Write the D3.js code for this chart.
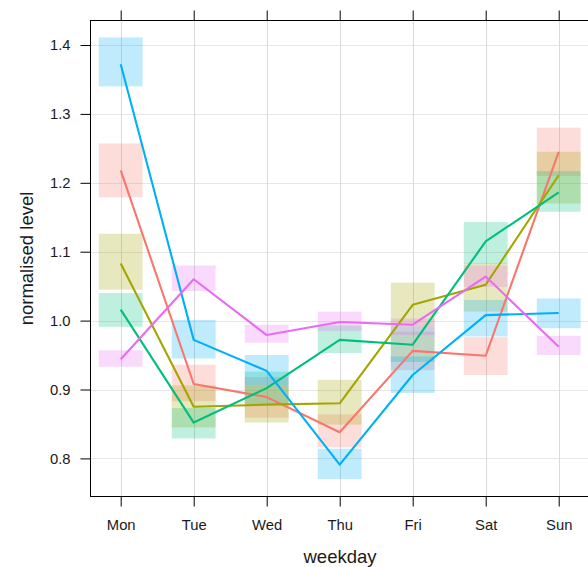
<!DOCTYPE html>
<html>
<head>
<meta charset="utf-8">
<script src="https://cdn.jsdelivr.net/npm/d3@7"></script>
<style>
  html, body { margin: 0; padding: 0; background: #fff; }
  svg { display: block; font-family: "Liberation Sans", Arial, sans-serif; }
</style>
</head>
<body>
<svg id="chart" width="588" height="567"></svg>
<script>
// ---- data ----
const weekdays = ["Mon", "Tue", "Wed", "Thu", "Fri", "Sat", "Sun"];
const yTicks = [0.8, 0.9, 1.0, 1.1, 1.2, 1.3, 1.4];
const seriesNames = ["s1", "s2", "s3", "s4", "s5"];
const seriesColors = ["#F8766D", "#A3A500", "#00BF7D", "#00B0F6", "#E76BF3"];

const s1Level = [1.218, 0.908, 0.889, 0.838, 0.956, 0.949, 1.245];
const s1Lower = [1.179, 0.883, 0.859, 0.816, 0.928, 0.921, 1.210];
const s1Upper = [1.257, 0.936, 0.918, 0.864, 0.984, 0.976, 1.280];

const s2Level = [1.083, 0.875, 0.878, 0.880, 1.023, 1.052, 1.211];
const s2Lower = [1.045, 0.845, 0.852, 0.849, 0.991, 1.013, 1.170];
const s2Upper = [1.126, 0.906, 0.906, 0.914, 1.055, 1.083, 1.245];

const s3Level = [1.016, 0.852, 0.902, 0.972, 0.965, 1.115, 1.186];
const s3Lower = [0.991, 0.829, 0.878, 0.953, 0.940, 1.082, 1.158];
const s3Upper = [1.040, 0.873, 0.926, 0.993, 0.991, 1.143, 1.217];

const s4Level = [1.372, 0.972, 0.927, 0.791, 0.921, 1.008, 1.011];
const s4Lower = [1.340, 0.945, 0.906, 0.770, 0.895, 0.977, 0.989];
const s4Upper = [1.411, 1.001, 0.950, 0.814, 0.948, 1.030, 1.032];

const s5Level = [0.944, 1.060, 0.979, 0.998, 0.994, 1.064, 0.962];
const s5Lower = [0.933, 1.043, 0.968, 0.985, 0.979, 1.049, 0.950];
const s5Upper = [0.957, 1.080, 0.994, 1.013, 1.003, 1.080, 0.978];

const levels = [s1Level, s2Level, s3Level, s4Level, s5Level];
const lowers = [s1Lower, s2Lower, s3Lower, s4Lower, s5Lower];
const uppers = [s1Upper, s2Upper, s3Upper, s4Upper, s5Upper];

// ---- layout ----
const svg = d3.select("#chart");
const panel = { left: 90.5, right: 589.5, top: 20.5, bottom: 496.5 };

const x = d3.scaleLinear().domain([0, 6]).range([120.7, 558.7]);
const y = d3.scaleLinear().domain([0.8, 1.4]).range([458.4, 45]);
const halfW = 0.3;

// grid
const grid = svg.append("g");
grid.selectAll("line.h").data(yTicks).enter().append("line")
  .attr("x1", panel.left).attr("x2", panel.right)
  .attr("y1", d => Math.round(y(d)) + 0.5).attr("y2", d => Math.round(y(d)) + 0.5)
  .attr("stroke", "#e6e6e6").attr("stroke-width", 1);
grid.selectAll("line.v").data(weekdays).enter().append("line")
  .attr("y1", panel.top).attr("y2", panel.bottom)
  .attr("x1", (d, i) => Math.round(x(i)) + 0.5).attr("x2", (d, i) => Math.round(x(i)) + 0.5)
  .attr("stroke", "#dadada").attr("stroke-width", 1);

// rectangles (intervals)
const rects = svg.append("g");
seriesNames.forEach((name, s) => {
  rects.append("g").selectAll("rect").data(weekdays).enter().append("rect")
    .attr("x", (d, i) => x(i - halfW))
    .attr("width", (d, i) => x(i + halfW) - x(i - halfW))
    .attr("y", (d, i) => y(uppers[s][i]))
    .attr("height", (d, i) => y(lowers[s][i]) - y(uppers[s][i]))
    .attr("fill", seriesColors[s]).attr("fill-opacity", 0.25);
});

// lines
const line = d3.line().x((d, i) => x(i)).y(d => y(d));
seriesNames.forEach((name, s) => {
  svg.append("path").datum(levels[s])
    .attr("d", line)
    .attr("fill", "none")
    .attr("stroke", seriesColors[s])
    .attr("stroke-width", 2.1)
    .attr("stroke-linejoin", "round");
});

// panel border
svg.append("rect")
  .attr("x", panel.left).attr("y", panel.top)
  .attr("width", panel.right - panel.left).attr("height", panel.bottom - panel.top)
  .attr("fill", "none").attr("stroke", "#000").attr("stroke-width", 1);

// axes
const xIdx = d3.range(weekdays.length);
const xAxisBottom = d3.axisBottom(x).tickValues(xIdx).tickFormat(i => weekdays[i])
  .tickSize(10).tickSizeOuter(0).tickPadding(13);
const gxb = svg.append("g").attr("transform", `translate(0,${panel.bottom})`).call(xAxisBottom);
gxb.select(".domain").remove();

const xAxisTop = d3.axisTop(x).tickValues(xIdx).tickFormat("")
  .tickSize(10).tickSizeOuter(0);
const gxt = svg.append("g").attr("transform", `translate(0,${panel.top})`).call(xAxisTop);
gxt.select(".domain").remove();

const yAxisLeft = d3.axisLeft(y).tickValues(yTicks).tickFormat(d3.format(".1f"))
  .tickSize(10).tickSizeOuter(0).tickPadding(10);
const gyl = svg.append("g").attr("transform", `translate(${panel.left},0)`).call(yAxisLeft);
gyl.select(".domain").remove();

[gxb, gxt, gyl].forEach(g => {
  g.selectAll(".tick line").attr("stroke", "#000");
  g.selectAll(".tick text")
    .attr("fill", "#1a1a1a")
    .style("font-size", "14.8px")
    .style("font-family", "'Liberation Sans', Arial, sans-serif");
});

// axis titles
svg.append("text")
  .attr("x", (panel.left + panel.right) / 2)
  .attr("y", 563)
  .attr("text-anchor", "middle")
  .attr("fill", "#1a1a1a")
  .style("font-size", "18.5px")
  .text("weekday");

svg.append("text")
  .attr("transform", `translate(33,${(panel.top + panel.bottom) / 2}) rotate(-90)`)
  .attr("text-anchor", "middle")
  .attr("fill", "#1a1a1a")
  .style("font-size", "18.5px")
  .text("normalised level");
</script>
</body>
</html>
